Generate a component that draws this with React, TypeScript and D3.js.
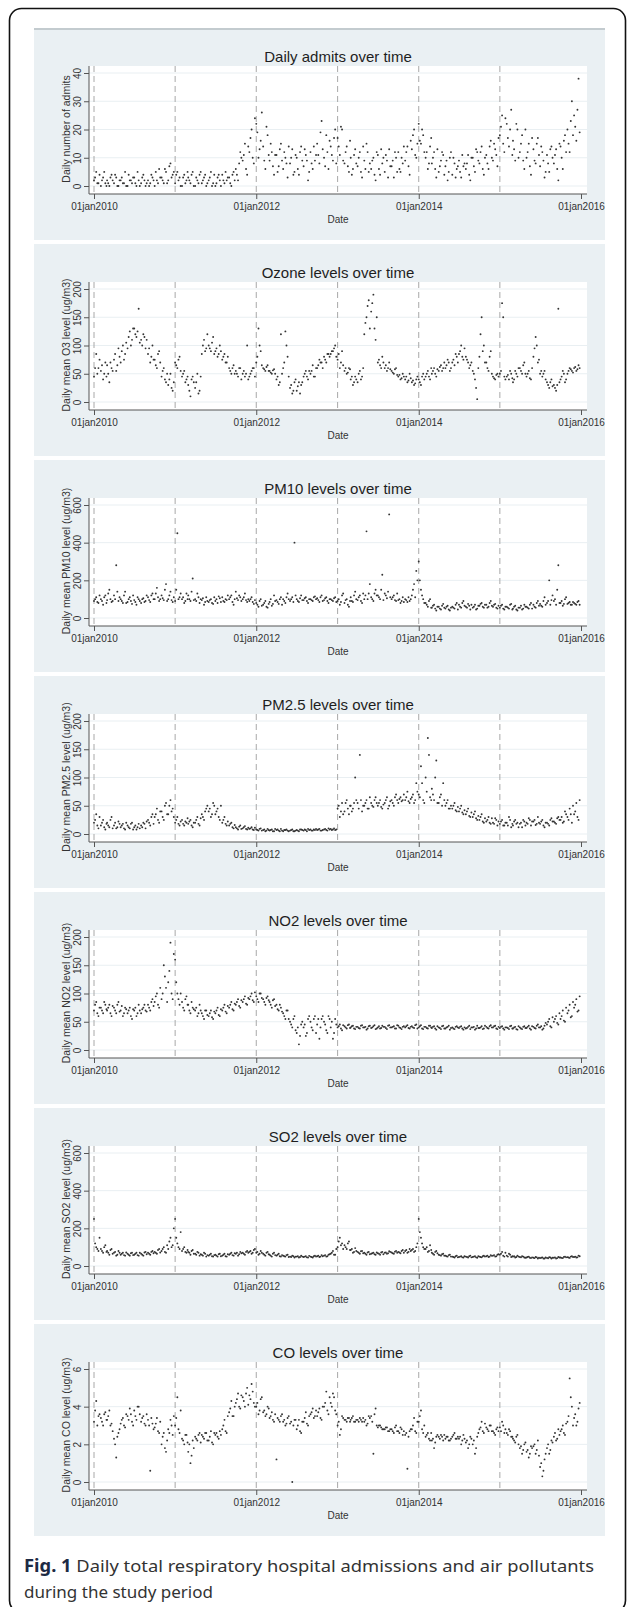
import * as React from 'react'
import { useEffect, useRef } from 'react'
import * as d3 from 'd3'

// readings per month, Jan 2010 .. Dec 2015
// "A" arrays: days 1, 11, 21   "B" arrays: days 6, 16, 26
const admitsA = [
  2,5,1, 0,3,1, 2,0,4, 1,3,0, 2,1,5, 0,2,1, 3,0,2, 1,4,0, 2,1,3, 0,2,6, 3,1,5, 2,8,4,
  1,5,3, 0,4,2, 3,1,5, 0,2,4, 1,3,0, 2,5,1, 0,3,2, 4,1,2, 3,0,5, 6,2,12, 9,15,4, 12,20,8,
  22,10,16, 14,6,18, 9,12,4, 11,7,15, 6,10,3, 8,13,5, 10,4,14, 7,11,2, 12,6,9, 15,8,23, 10,18,6, 14,9,20,
  17,11,20, 8,14,5, 10,6,13, 7,12,3, 9,15,5, 6,10,2, 11,4,8, 5,9,13, 7,3,10, 12,5,8, 9,14,4, 13,20,10,
  22,15,18, 10,6,14, 8,12,3, 5,9,11, 7,2,10, 4,8,6, 9,3,7, 6,11,2, 10,5,12, 8,14,4, 11,6,16, 9,13,7,
  18,25,12, 22,14,27, 16,9,20, 12,18,6, 10,15,4, 13,8,17, 7,12,3, 11,5,14, 8,13,2, 14,6,18, 20,12,30, 25,16,38,
]
const admitsB = [
  3,1,4, 2,5,0, 1,3,2, 4,0,2, 3,1,0, 4,2,3, 1,5,0, 3,2,1, 0,4,2, 5,1,3, 2,6,1, 7,3,5,
  4,2,0, 3,1,5, 2,4,0, 3,1,5, 2,4,1, 3,0,4, 1,4,0, 2,5,3, 1,4,2, 4,8,10, 11,6,14, 17,10,24,
  19,13,26, 9,21,11, 15,7,11, 5,13,9, 12,8,14, 10,4,11, 6,12,9, 13,9,5, 8,14,11, 11,19,13, 7,12,16, 11,17,8,
  14,21,9, 12,7,16, 4,11,8, 10,5,14, 6,12,8, 9,4,12, 6,13,10, 11,3,7, 9,12,5, 6,10,14, 12,7,16, 18,11,15,
  16,20,12, 12,8,17, 10,6,13, 7,12,4, 9,5,12, 10,3,7, 5,11,8, 8,4,10, 7,13,9, 12,6,10, 8,14,10, 15,11,17,
  21,15,24, 17,20,11, 13,22,10, 15,9,20, 12,7,17, 9,15,11, 14,9,5, 8,13,10, 11,6,15, 10,16,12, 15,23,18, 21,27,19,
]

const ozoneA = [
  45,85,60, 55,40,70, 65,35,60, 75,55,95, 70,100,85, 95,125,110, 130,115,165, 110,120,95, 85,70,100, 75,60,90, 45,60,35, 30,50,20,
  70,60,80, 45,55,40, 30,10,45, 25,50,20, 85,110,95, 100,90,115, 90,80,100, 75,85,70, 60,50,65, 55,45,60, 50,45,100, 45,55,60,
  70,130,90, 60,55,65, 55,50,58, 40,30,120, 60,125,80, 25,15,35, 20,35,30, 45,55,40, 50,65,45, 60,75,70, 80,70,85, 85,90,100,
  75,60,90, 55,50,60, 40,30,45, 35,55,45, 120,150,180, 160,190,110, 70,65,80, 60,55,70, 55,50,60, 45,40,50, 40,35,50, 35,30,40,
  40,30,50, 45,55,40, 50,60,45, 55,65,60, 60,75,55, 70,65,80, 85,100,75, 80,70,65, 55,40,5, 80,150,100, 70,55,90, 45,40,50,
  50,175,45, 45,40,50, 35,55,45, 60,50,70, 45,55,40, 80,115,70, 50,45,55, 35,25,40, 30,20,165, 40,55,35, 50,60,55, 60,55,65,
]
const ozoneB = [
  60,50,75, 65,50,45, 50,70,55, 85,65,80, 90,75,105, 115,100,130, 120,125,105, 100,115,110, 95,80,75, 65,85,70, 55,40,50, 40,25,35,
  65,75,55, 50,35,45, 20,40,35, 35,15,45, 100,90,120, 95,105,85, 95,85,90, 80,70,80, 55,60,50, 50,60,40, 55,50,40, 50,60,45,
  80,100,65, 58,62,55, 52,56,50, 45,35,50, 70,100,45, 30,20,40, 28,15,35, 50,45,55, 55,45,60, 65,70,60, 75,85,80, 90,95,80,
  85,70,65, 60,52,58, 45,35,40, 50,40,60, 140,170,130, 175,130,150, 75,60,70, 65,60,58, 52,58,48, 48,42,45, 45,38,42, 38,33,45,
  35,45,40, 50,45,60, 55,50,58, 62,55,70, 65,70,60, 75,85,70, 90,80,95, 75,60,70, 50,25,60, 120,90,70, 60,80,50, 42,48,45,
  55,150,40, 48,55,42, 40,50,60, 55,65,50, 50,42,60, 95,100,75, 55,50,40, 30,35,28, 25,30,35, 45,50,40, 55,58,52, 62,58,60,
]

const pm10A = [
  90,110,80, 100,70,120, 95,150,85, 120,280,90, 100,80,140, 85,110,75, 95,70,100, 80,105,90, 110,85,130, 100,160,90, 120,95,180, 100,140,85,
  90,450,110, 100,80,130, 120,90,210, 100,130,80, 95,70,110, 85,100,75, 90,80,105, 110,85,95, 100,120,70, 140,95,110, 100,130,85, 90,110,75,
  80,60,100, 70,90,55, 85,65,120, 95,75,110, 100,80,130, 90,110,400, 100,85,120, 95,110,80, 100,90,115, 105,85,120, 95,110,80, 100,90,110,
  90,70,120, 80,100,60, 110,85,140, 95,120,80, 100,460,130, 110,90,150, 120,100,230, 130,105,550, 100,120,90, 95,80,110, 100,85,90, 120,180,250,
  300,150,100, 80,60,100, 55,70,40, 60,45,75, 50,65,40, 60,50,80, 70,55,90, 60,75,45, 55,70,50, 65,80,55, 70,60,90, 60,75,50,
  55,70,45, 60,50,75, 50,65,40, 55,45,70, 60,50,80, 70,55,90, 75,60,110, 80,200,95, 90,70,280, 80,65,100, 75,85,70, 80,70,90,
]
const pm10B = [
  100,85,120, 90,110,80, 130,100,90, 100,140,110, 90,120,80, 100,90,120, 85,110,90, 100,85,120, 95,120,100, 130,110,100, 105,150,90, 120,95,110,
  150,100,130, 110,90,100, 100,140,95, 90,110,100, 105,85,90, 95,80,110, 100,115,85, 90,100,120, 110,85,100, 105,120,90, 110,95,100, 100,85,95,
  70,90,65, 80,60,75, 100,75,90, 85,100,70, 90,110,100, 100,85,120, 90,105,95, 105,90,100, 95,110,100, 95,110,90, 105,90,100, 95,105,85,
  100,85,130, 95,70,90, 90,120,100, 110,90,130, 120,100,180, 100,130,120, 110,150,95, 120,140,110, 110,95,130, 100,90,85, 95,110,100, 150,110,200,
  200,120,80, 70,90,55, 65,50,60, 50,65,55, 60,45,55, 55,70,45, 60,80,65, 55,65,70, 60,45,65, 75,60,70, 55,80,65, 70,55,65,
  65,50,60, 55,70,45, 60,45,55, 65,50,60, 55,70,50, 60,80,65, 65,90,70, 90,70,120, 100,150,80, 90,75,110, 80,70,85, 75,85,70,
]

const pm25A = [
  20,35,10, 15,25,8, 20,12,30, 15,10,22, 12,18,8, 15,10,20, 12,8,18, 15,20,10, 25,15,35, 30,45,20, 40,25,55, 35,60,45,
  20,30,15, 25,15,20, 18,25,12, 20,30,15, 35,25,45, 40,30,55, 35,45,25, 20,30,15, 15,20,10, 12,8,15, 10,14,8, 9,12,7,
  8,6,10, 7,5,9, 6,8,5, 7,6,9, 5,7,6, 6,8,5, 7,5,8, 6,7,9, 8,6,7, 7,9,6, 8,7,10, 9,8,7,
  45,30,55, 40,60,35, 50,45,100, 55,140,40, 50,60,45, 55,48,65, 50,60,45, 55,65,50, 60,50,70, 55,65,60, 60,75,55, 65,55,90,
  70,120,60, 100,170,65, 80,60,130, 55,70,90, 50,60,45, 45,55,40, 40,50,35, 35,45,30, 30,40,25, 25,35,20, 22,30,18, 20,28,15,
  18,25,15, 20,30,12, 15,25,20, 18,12,22, 20,28,15, 22,16,30, 18,25,12, 20,15,28, 22,18,30, 25,20,40, 30,45,20, 35,55,25,
]
const pm25B = [
  25,15,30, 20,12,18, 15,25,10, 20,12,18, 15,10,20, 12,18,8, 15,12,10, 12,18,22, 20,30,18, 35,25,40, 30,50,35, 50,40,30,
  25,18,22, 18,22,28, 22,15,20, 25,18,28, 30,40,50, 45,35,50, 40,30,50, 25,18,22, 18,12,16, 10,13,9, 12,9,11, 10,8,11,
  7,9,6, 8,6,7, 7,5,9, 8,5,6, 7,8,5, 7,5,6, 6,8,7, 8,5,7, 6,8,9, 8,6,7, 9,6,8, 7,10,8,
  50,40,35, 55,45,50, 40,55,60, 45,60,50, 55,45,65, 50,60,55, 55,48,52, 60,45,58, 55,65,60, 62,58,70, 65,58,62, 70,60,75,
  65,90,55, 75,140,60, 70,100,55, 65,50,60, 55,45,50, 50,42,48, 45,38,42, 40,32,38, 35,28,32, 30,22,28, 25,20,28, 18,25,22,
  22,15,20, 15,25,18, 22,18,12, 20,25,15, 18,25,22, 25,18,20, 22,15,20, 18,25,22, 20,28,25, 30,22,35, 25,35,50, 40,30,60,
]

const no2A = [
  70,85,60, 75,65,80, 70,80,60, 75,65,85, 70,60,75, 65,75,55, 70,60,80, 65,75,70, 80,70,90, 85,100,75, 90,150,110, 120,190,90,
  160,100,80, 85,70,95, 80,65,75, 70,60,80, 65,55,70, 60,70,55, 65,75,60, 70,80,65, 75,85,70, 80,90,75, 85,95,80, 90,100,85,
  95,85,100, 90,80,95, 85,75,90, 80,70,75, 65,55,70, 50,40,60, 30,10,45, 40,25,55, 50,35,60, 45,20,55, 50,35,60, 40,20,55,
  40,45,35, 42,38,45, 40,43,37, 41,38,44, 40,36,42, 39,42,37, 40,38,43, 41,37,44, 40,42,38, 43,39,41, 40,44,38, 42,39,45,
  40,44,37, 41,38,43, 39,42,36, 40,37,43, 38,41,36, 40,37,42, 39,42,36, 38,41,37, 40,36,43, 39,42,38, 41,38,44, 40,43,37,
  39,42,36, 40,37,43, 38,41,36, 40,37,42, 39,43,36, 41,38,45, 40,36,43, 45,55,40, 50,60,45, 55,70,50, 65,80,60, 75,90,70,
]
const no2B = [
  80,65,75, 70,85,72, 75,65,78, 70,80,68, 78,65,72, 70,60,72, 75,65,70, 72,80,68, 75,85,78, 95,80,110, 100,130,85, 140,100,170,
  120,90,100, 75,90,80, 70,85,72, 75,65,70, 60,70,62, 65,58,68, 70,62,72, 75,68,78, 80,72,82, 85,78,88, 90,82,92, 95,88,102,
  90,100,92, 85,92,88, 80,88,78, 72,80,68, 60,70,55, 45,55,35, 40,25,50, 45,30,60, 40,55,30, 55,40,60, 45,30,55, 50,30,45,
  42,38,44, 40,44,39, 42,38,41, 39,43,40, 41,38,43, 40,44,38, 42,39,41, 39,43,40, 41,38,44, 40,37,42, 42,39,41, 40,44,38,
  42,38,41, 39,43,40, 41,38,42, 39,42,38, 40,43,39, 38,41,40, 41,38,40, 39,43,40, 41,38,39, 40,37,43, 39,42,40, 42,38,41,
  41,38,40, 39,42,38, 40,37,42, 38,41,39, 41,38,42, 39,43,40, 42,38,48, 50,42,58, 55,48,65, 60,52,75, 70,58,85, 80,68,95,
]

const so2A = [
  250,100,80, 90,70,110, 80,60,90, 70,55,80, 60,70,55, 65,55,70, 60,70,55, 65,55,75, 70,60,80, 75,65,90, 80,100,70, 90,150,110,
  250,120,90, 80,100,70, 75,60,85, 65,75,55, 60,70,50, 55,65,50, 60,50,65, 55,65,50, 60,70,55, 65,55,75, 70,60,80, 75,65,85,
  70,60,80, 65,55,75, 60,50,70, 55,65,50, 55,50,60, 50,55,45, 50,45,55, 48,52,45, 50,45,55, 52,48,58, 55,50,60, 65,80,60,
  100,150,120, 110,90,130, 85,70,95, 75,65,80, 70,60,75, 65,70,60, 68,60,75, 70,65,78, 72,65,80, 75,68,85, 80,70,90, 85,75,100,
  250,150,100, 90,75,110, 70,60,80, 60,55,65, 55,50,60, 50,45,55, 48,52,45, 50,45,55, 48,52,44, 50,46,55, 52,48,58, 55,50,60,
  60,75,50, 55,65,48, 50,45,55, 48,52,45, 45,50,42, 44,48,40, 42,46,40, 43,47,40, 44,40,48, 45,42,50, 47,43,52, 48,45,55,
]
const so2B = [
  120,90,150, 80,100,75, 70,85,65, 75,60,70, 65,58,72, 60,68,58, 65,58,70, 60,72,62, 65,75,68, 70,85,72, 90,75,110, 130,100,200,
  150,100,180, 90,75,85, 70,80,65, 60,70,62, 55,65,58, 60,52,58, 55,62,52, 60,52,62, 65,58,68, 70,62,68, 65,75,70, 80,70,90,
  75,65,70, 60,70,62, 55,65,58, 60,52,58, 52,58,48, 48,52,50, 52,48,50, 50,46,54, 48,52,50, 55,50,52, 58,52,62, 70,60,90,
  130,110,90, 100,120,85, 90,75,80, 70,78,68, 65,72,62, 68,62,72, 65,72,62, 72,68,75, 68,76,70, 72,80,70, 85,75,80, 90,80,120,
  180,120,90, 100,80,85, 65,75,68, 58,62,55, 52,58,50, 48,52,46, 50,46,52, 48,52,46, 50,46,52, 48,52,50, 55,50,54, 58,52,62,
  65,55,70, 50,60,52, 52,48,50, 46,50,44, 48,44,46, 42,46,44, 44,40,45, 41,45,44, 46,42,45, 43,48,46, 45,50,48, 50,46,52,
]

const coA = [
  3.2,4.3,3.5, 3.4,3.0,3.7, 3.3,3.8,3.1, 2.3,1.3,2.6, 3.1,3.4,2.9, 3.5,3.9,3.2, 3.8,3.3,4.0, 3.2,3.5,3.0, 3.3,0.6,3.1, 2.9,3.4,2.6, 2.0,2.6,1.6, 2.8,3.3,2.5,
  3.0,4.5,2.6, 2.3,2.0,2.5, 1.6,1.0,2.2, 2.4,2.2,2.6, 2.5,2.3,2.6, 2.2,2.7,2.0, 2.5,2.4,2.7, 2.8,3.3,2.6, 3.7,4.3,3.5, 4.2,4.7,3.9, 4.5,4.0,5.0, 4.6,5.2,4.2,
  4.0,3.6,4.4, 3.7,3.5,4.0, 3.4,3.7,3.2, 1.2,3.3,3.5, 3.2,3.0,3.4, 3.1,0.0,3.3, 2.8,3.3,2.6, 3.2,3.7,3.0, 3.6,3.9,3.5, 3.5,3.9,3.3, 4.0,4.8,3.6, 4.2,4.7,3.8,
  3.0,2.5,3.5, 3.3,3.2,3.4, 3.3,3.5,3.2, 3.3,3.4,3.2, 3.2,3.0,3.5, 3.5,1.5,3.9, 2.9,3.0,2.8, 2.8,2.9,2.7, 2.8,2.6,3.0, 2.7,2.9,2.5, 2.5,0.7,2.7, 2.8,3.4,2.6,
  3.2,3.8,2.6, 2.4,2.6,2.2, 2.2,1.8,2.4, 2.4,2.5,2.2, 2.3,2.4,2.2, 2.4,2.6,2.3, 2.3,2.0,2.5, 2.1,1.8,2.4, 2.0,1.5,2.4, 2.8,3.2,2.6, 2.9,2.7,3.0, 2.7,2.5,2.9,
  2.9,3.2,2.6, 2.6,2.8,2.4, 2.3,2.1,2.5, 1.8,1.5,2.0, 1.6,1.3,1.9, 1.9,1.5,2.2, 0.8,0.3,1.2, 1.8,1.5,2.2, 2.4,2.2,2.8, 2.7,3.0,2.5, 3.2,5.5,4.0, 3.4,3.0,3.9,
]
const coB = [
  3.8,3.0,3.6, 3.2,3.6,3.3, 3.5,3.0,2.7, 2.0,2.4,2.8, 3.3,3.0,3.6, 3.3,3.6,3.0, 3.5,4.0,3.6, 3.4,3.1,3.6, 3.0,3.4,2.8, 3.1,2.7,3.2, 2.4,1.8,2.2, 2.6,3.0,3.5,
  3.4,2.8,3.8, 2.2,2.5,2.1, 2.0,1.4,1.8, 2.3,2.5,2.1, 2.4,2.6,2.2, 2.4,2.1,2.6, 2.6,2.3,2.5, 3.0,2.7,3.5, 3.9,3.5,4.0, 4.4,4.0,4.6, 4.3,4.7,4.1, 4.4,4.8,4.0,
  4.2,3.8,4.5, 3.8,3.6,3.9, 3.5,3.3,3.6, 3.4,3.2,3.6, 3.3,3.1,3.5, 3.2,3.0,3.3, 3.0,2.7,3.2, 3.4,3.1,3.5, 3.7,3.4,3.8, 3.7,3.4,4.0, 4.2,3.8,4.5, 4.0,4.5,3.6,
  3.2,2.8,3.4, 3.3,3.4,3.2, 3.4,3.2,3.3, 3.2,3.3,3.4, 3.3,3.1,3.4, 3.2,3.6,3.0, 3.0,2.9,2.8, 2.9,2.7,2.8, 2.7,2.9,2.7, 2.6,2.8,2.7, 2.6,2.4,2.8, 3.0,2.7,3.2,
  3.5,2.8,3.0, 2.5,2.3,2.6, 2.3,2.1,2.5, 2.3,2.4,2.5, 2.4,2.2,2.3, 2.5,2.3,2.4, 2.4,2.2,2.3, 2.2,2.0,2.3, 2.2,1.8,2.6, 2.9,2.7,3.1, 2.8,3.0,2.7, 2.6,2.8,2.7,
  2.7,3.0,2.8, 2.5,2.7,2.4, 2.2,2.4,2.0, 1.9,1.7,2.1, 1.7,1.5,1.8, 2.0,1.7,1.4, 1.0,0.6,1.5, 2.0,1.7,2.1, 2.6,2.3,2.5, 2.8,2.6,3.1, 3.5,4.5,3.0, 3.6,3.2,4.2,
]

const titles = ['Daily admits over time', 'Ozone levels over time', 'PM10 levels over time', 'PM2.5 levels over time',
  'NO2 levels over time', 'SO2 levels over time', 'CO levels over time']
const yTitles = ['Daily number of admits', 'Daily mean O3 level (ug/m3)', 'Daily mean PM10 level (ug/m3)',
  'Daily mean PM2.5 level (ug/m3)', 'Daily mean NO2 level (ug/m3)', 'Daily mean SO2 level (ug/m3)', 'Daily mean CO level (ug/m3)']
const yTicks = [[0, 10, 20, 30, 40], [0, 50, 100, 150, 200], [0, 200, 400, 600], [0, 50, 100, 150, 200],
  [0, 50, 100, 150, 200], [0, 200, 400, 600], [0, 2, 4, 6]]
const seriesA = [admitsA, ozoneA, pm10A, pm25A, no2A, so2A, coA]
const seriesB = [admitsB, ozoneB, pm10B, pm25B, no2B, so2B, coB]
const xTicks = [2010, 2012, 2014, 2016]
const yearLines = [2010, 2011, 2012, 2013, 2014, 2015]

const W = 627
const H = 1607

const dateOf = (i: number, offset: number) => new Date(2010, Math.floor(i / 3), 1 + offset + 10 * (i % 3))

const App = () => {
  const chartRef = useRef(null)

  useEffect(() => {
    const svg = d3.select(chartRef.current)
    svg.selectAll('*').remove()

    svg.append('rect').attr('x', 9.5).attr('y', 8.5).attr('width', 616).attr('height', 1604)
      .attr('rx', 12).attr('fill', 'white').attr('stroke', '#111').attr('stroke-width', 1.6)

    const xScale = d3.scaleTime()
      .domain([new Date(2010, 0, 1), new Date(2016, 0, 1)])
      .range([94, 581])

    const font = 'Liberation Sans, Arial, sans-serif'

    seriesA.forEach((valuesA, p) => {
      const top = 28 + 216 * p
      const g = svg.append('g')

      g.append('rect').attr('x', 34).attr('y', top).attr('width', 571).attr('height', 212).attr('fill', '#eaf0f3')
      if (p === 0) {
        g.append('rect').attr('x', 34).attr('y', top).attr('width', 571).attr('height', 2).attr('fill', '#c3cbcf')
      }

      const ticks = yTicks[p]
      const yScale = d3.scaleLinear()
        .domain([0, ticks[ticks.length - 1]])
        .range([top + 158, top + 45])

      // plot region
      g.append('rect').attr('x', 89).attr('y', top + 38).attr('width', 498).attr('height', 128).attr('fill', 'white')

      g.selectAll('.grid')
        .data(ticks)
        .enter()
        .append('line')
        .attr('x1', 89).attr('x2', 587)
        .attr('y1', d => yScale(d)).attr('y2', d => yScale(d))
        .attr('stroke', '#e9eff2').attr('stroke-width', 1)

      g.selectAll('.yearline')
        .data(yearLines)
        .enter()
        .append('line')
        .attr('x1', d => xScale(new Date(d, 0, 1))).attr('x2', d => xScale(new Date(d, 0, 1)))
        .attr('y1', top + 38).attr('y2', top + 166)
        .attr('stroke', '#a8a8a8').attr('stroke-width', 1).attr('stroke-dasharray', '6,4')

      const pts = [
        ...valuesA.map((v, i) => ({ date: dateOf(i, 0), v })),
        ...seriesB[p].map((v, i) => ({ date: dateOf(i, 5), v })),
      ]

      g.selectAll('circle')
        .data(pts)
        .enter()
        .append('circle')
        .attr('cx', d => xScale(d.date))
        .attr('cy', d => yScale(d.v))
        .attr('r', 0.95)
        .attr('fill', '#333')

      g.append('text')
        .attr('x', 338).attr('y', top + 34)
        .style('text-anchor', 'middle').style('font-size', '15px').style('font-family', font)
        .attr('fill', '#1e1e1e')
        .text(titles[p])

      const yAxis = g.append('g')
        .attr('transform', 'translate(89, 0)')
        .call(d3.axisLeft(yScale).tickValues(ticks).tickSize(5).tickFormat(d3.format('d')))
      yAxis.select('.domain').attr('d', `M0,${top + 38}V${top + 166}`).attr('stroke', '#555')
      yAxis.selectAll('line').attr('stroke', '#555')
      yAxis.selectAll('text')
        .attr('transform', 'rotate(-90)')
        .attr('x', 0).attr('y', -8).attr('dy', null)
        .style('text-anchor', 'middle').style('font-size', '10px').style('font-family', font)
        .attr('fill', '#333')

      g.append('text')
        .attr('transform', `translate(70, ${top + 101}) rotate(-90)`)
        .style('text-anchor', 'middle').style('font-size', '10.5px').style('font-family', font)
        .attr('fill', '#333')
        .text(yTitles[p])

      const xAxis = g.append('g')
        .attr('transform', `translate(0, ${top + 166})`)
        .call(d3.axisBottom(xScale).tickValues(xTicks.map(y => new Date(y, 0, 1))).tickSize(5)
          .tickFormat(d3.timeFormat('%d%b%Y')))
      xAxis.select('.domain').attr('d', 'M89,0H587').attr('stroke', '#555')
      xAxis.selectAll('line').attr('stroke', '#555')
      xAxis.selectAll('text')
        .text((d: Date) => d3.timeFormat('%d')(d) + d3.timeFormat('%b')(d).toLowerCase() + d3.timeFormat('%Y')(d))
        .attr('y', 9)
        .style('font-size', '10px').style('font-family', font)
        .attr('fill', '#333')

      g.append('text')
        .attr('x', 338).attr('y', top + 195)
        .style('text-anchor', 'middle').style('font-size', '10px').style('font-family', font)
        .attr('fill', '#333')
        .text('Date')
    })

    const caption = svg.append('text')
      .attr('x', 24).attr('y', 1572)
      .attr('textLength', 570).attr('lengthAdjust', 'spacingAndGlyphs')
      .style('font-size', '17px').style('font-family', 'Noto Sans, Open Sans, sans-serif')
      .attr('fill', '#333')
    caption.append('tspan').style('font-weight', 'bold').attr('fill', '#1d2a44').text('Fig. 1')
    caption.append('tspan').text(' Daily total respiratory hospital admissions and air pollutants')

    svg.append('text')
      .attr('x', 24).attr('y', 1598)
      .style('font-size', '17px').style('font-family', 'Noto Sans, Open Sans, sans-serif')
      .attr('fill', '#333')
      .text('during the study period')
  }, [])

  return (
    <svg ref={chartRef} width={W} height={H} style={{ position: 'absolute', left: 0, top: 0 }}></svg>
  )
}

export default App
